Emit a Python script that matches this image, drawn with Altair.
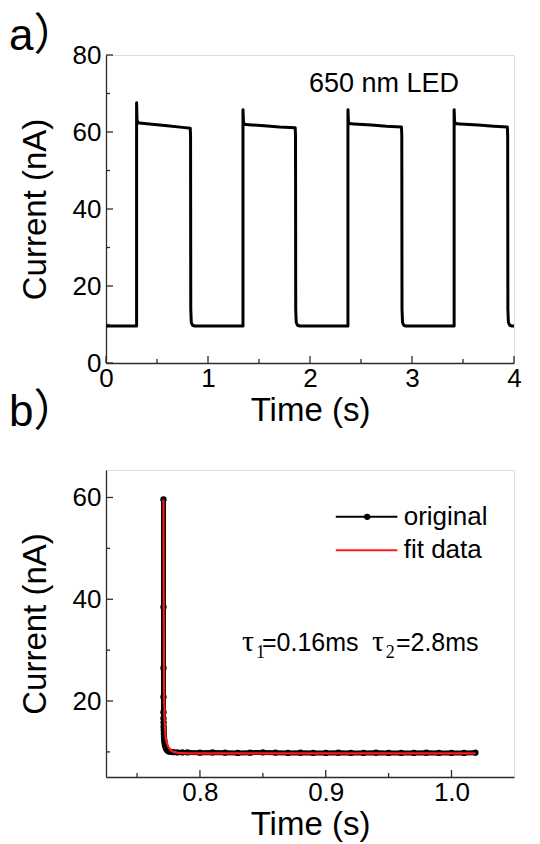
import altair as alt
import pandas as pd

# ---------------- panel a: square-wave photocurrent ----------------
a_time = [0.000, 0.300, 0.300, 0.304, 0.312, 0.350, 0.450, 0.600, 0.750, 0.826, 0.829, 0.831, 0.836, 0.848, 0.870,
          1.343, 1.343, 1.347, 1.355, 1.400, 1.550, 1.700, 1.855, 1.858, 1.860, 1.865, 1.877, 1.900,
          2.372, 2.372, 2.376, 2.384, 2.430, 2.600, 2.750, 2.897, 2.900, 2.902, 2.907, 2.919, 2.940,
          3.413, 3.413, 3.417, 3.425, 3.470, 3.650, 3.800, 3.935, 3.938, 3.940, 3.945, 3.957, 3.980, 4.000]
a_current = [9.6, 9.6, 67.6, 63.2, 62.4, 62.3, 62.0, 61.6, 61.2, 61.0, 59.0, 14.0, 10.6, 9.8, 9.6,
             9.6, 65.8, 62.8, 62.0, 61.9, 61.6, 61.3, 61.1, 59.0, 14.0, 10.6, 9.8, 9.6,
             9.6, 65.8, 62.9, 62.2, 62.1, 61.8, 61.5, 61.3, 59.0, 14.0, 10.6, 9.8, 9.6,
             9.6, 65.8, 62.9, 62.2, 62.1, 61.8, 61.5, 61.3, 59.0, 14.0, 10.6, 9.8, 9.6, 9.6]
a_note = ["650 nm LED"]
a_xticks_major = [0, 1, 2, 3, 4]
a_xticks_minor = [0.5, 1.5, 2.5, 3.5]
a_yticks_major = [0, 20, 40, 60, 80]
a_yticks_minor = [10, 30, 50, 70]

# ---------------- panel b: decay and fit ----------------
b_orig_time = [0.7710, 0.7710, 0.7710, 0.7710, 0.7710, 0.7710, 0.7711, 0.7711, 0.7712, 0.7713, 0.7714,
               0.7716, 0.7718, 0.7721, 0.7725, 0.7731, 0.7740, 0.7752, 0.7768, 0.7790, 0.7820, 0.7860,
               0.790, 0.800, 0.810, 0.820, 0.830, 0.840, 0.850, 0.860, 0.870, 0.880, 0.890, 0.900,
               0.910, 0.920, 0.930, 0.940, 0.950, 0.960, 0.970, 0.980, 0.990, 1.000, 1.010, 1.019]
b_orig_current = [59.6, 38.5, 26.5, 20.8, 17.8, 16.6, 15.8, 15.0, 14.3, 13.6, 13.0,
                  12.4, 11.9, 11.4, 11.0, 10.6, 10.3, 10.1, 10.0, 9.95, 9.9, 9.9,
                  9.9, 9.85, 9.9, 9.85, 9.8, 9.85, 9.9, 9.85, 9.8, 9.85, 9.8, 9.8,
                  9.85, 9.8, 9.8, 9.85, 9.8, 9.8, 9.8, 9.85, 9.8, 9.8, 9.8, 9.85]
b_fit_time = [0.7710, 0.7711, 0.7713, 0.7716, 0.7720, 0.7726, 0.7735, 0.7748, 0.7765, 0.7790,
              0.7830, 0.7900, 0.8200, 0.9000, 1.0190]
b_fit_current = [59.6, 45.0, 30.0, 20.0, 15.5, 13.2, 11.9, 11.0, 10.4, 10.0,
                 9.8, 9.72, 9.7, 9.7, 9.7]
b_legend = ["original", "fit data"]
b_tau_symbol = ["τ", "τ"]
b_tau_sub = ["1", "2"]
b_tau_value = ["=0.16ms", "=2.8ms"]
b_xticks_major = [0.8, 0.9, 1.0]
b_xticks_minor = [0.75, 0.85, 0.95]
b_yticks_major = [20, 40, 60]
b_yticks_minor = [10, 30, 50]

FONT = "Liberation Sans, Arial, Noto Sans CJK SC"
SERIF = "Liberation Serif, Times New Roman"
LINE = "#2b2b2b"
W1, H1 = 408, 308
W2, H2 = 408, 307


def x_axis(values, fmt):
    return alt.Axis(values=values, format=fmt, title="Time (s)", tickSize=0, labelPadding=2,
                    labelFontSize=26, titleFontSize=33, titlePadding=3, domainColor=LINE,
                    domainWidth=1.3, labelColor="black", titleColor="black", labelFont=FONT,
                    titleFont=FONT, titleFontWeight="normal", grid=False, labelFlush=False,
                    labelOverlap=False)


def y_axis(values):
    return alt.Axis(values=values, format="d", title="Current (nA)", tickSize=0, labelPadding=5,
                    labelFontSize=26, titleFontSize=33, titlePadding=18, domainColor=LINE,
                    domainWidth=1.3, labelColor="black", titleColor="black", labelFont=FONT,
                    titleFont=FONT, titleFontWeight="normal", grid=False, labelFlush=False,
                    labelOverlap=False, minExtent=36, maxExtent=36)


def tick_layers(xs, ys, xax, yax, xmaj, xmin, ymaj, ymin, H):
    out = []
    for vals, ln in ((xmaj, 7), (xmin, 4)):
        out.append(alt.Chart(pd.DataFrame({"v": vals})).mark_rule(color=LINE, strokeWidth=1.3).encode(
            x=alt.X("v:Q", scale=xs, axis=xax), y=alt.value(H), y2=alt.value(H - ln)))
    for vals, ln in ((ymaj, 7), (ymin, 4)):
        out.append(alt.Chart(pd.DataFrame({"v": vals})).mark_rule(color=LINE, strokeWidth=1.3).encode(
            y=alt.Y("v:Q", scale=ys, axis=yax), x=alt.value(0), x2=alt.value(ln)))
    return out


# ---------- panel a ----------
xa = alt.Scale(domain=[0, 4], nice=False, zero=False)
ya = alt.Scale(domain=[0, 80], nice=False, zero=False)
xa_ax = x_axis(a_xticks_major, "d")
ya_ax = y_axis(a_yticks_major)
a_df = pd.DataFrame({"t": a_time, "i": a_current, "k": list(range(len(a_time)))})
a_line = alt.Chart(a_df).mark_line(color="black", strokeWidth=3, strokeJoin="round").encode(
    x=alt.X("t:Q", scale=xa, axis=xa_ax),
    y=alt.Y("i:Q", scale=ya, axis=ya_ax),
    order="k:Q")
a_text = alt.Chart(pd.DataFrame({"s": a_note})).mark_text(
    align="left", baseline="alphabetic", fontSize=27, font=FONT, color="black").encode(
    x=alt.datum(1.99), y=alt.datum(70.4), text="s:N")
top = alt.layer(a_line, a_text, *tick_layers(xa, ya, xa_ax, ya_ax, a_xticks_major, a_xticks_minor,
                                              a_yticks_major, a_yticks_minor, H1)).properties(
    width=W1, height=H1,
    title=alt.TitleParams("a）", anchor="start", frame="group", fontSize=44, font=FONT,
                          fontWeight="normal", color="black", dx=-97, offset=-52,
                          baseline="alphabetic"))

# ---------- panel b ----------
xb = alt.Scale(domain=[0.7253, 1.0497], nice=False, zero=False)
yb = alt.Scale(domain=[5.07, 65.4], nice=False, zero=False)
xb_ax = x_axis(b_xticks_major, ".1f")
yb_ax = y_axis(b_yticks_major)
b_orig = pd.DataFrame({"t": b_orig_time, "i": b_orig_current, "k": list(range(len(b_orig_time)))})
b_fit = pd.DataFrame({"t": b_fit_time, "i": b_fit_current, "k": list(range(len(b_fit_time)))})
orig_line = alt.Chart(b_orig).mark_line(color="black", strokeWidth=5, strokeJoin="round").encode(
    x=alt.X("t:Q", scale=xb, axis=xb_ax),
    y=alt.Y("i:Q", scale=yb, axis=yb_ax),
    order="k:Q")
orig_pts = alt.Chart(b_orig).mark_circle(color="black", size=40, opacity=1).encode(
    x=alt.X("t:Q", scale=xb, axis=xb_ax), y=alt.Y("i:Q", scale=yb, axis=yb_ax))
fit_line = alt.Chart(b_fit).mark_line(color="#ff1a1a", strokeWidth=2.2).encode(
    x=alt.X("t:Q", scale=xb, axis=xb_ax), y=alt.Y("i:Q", scale=yb, axis=yb_ax), order="k:Q")

leg1 = pd.DataFrame({"s": [b_legend[0]]})
leg2 = pd.DataFrame({"s": [b_legend[1]]})
leg_l1 = alt.Chart(leg1).mark_rule(color="black", strokeWidth=2).encode(
    x=alt.datum(0.908), x2=alt.datum(0.957), y=alt.datum(56.2))
leg_p1 = alt.Chart(leg1).mark_circle(color="black", size=40, opacity=1).encode(
    x=alt.datum(0.933), y=alt.datum(56.2))
leg_t1 = alt.Chart(leg1).mark_text(align="left", baseline="middle", fontSize=26, font=FONT,
                                   color="black").encode(
    x=alt.datum(0.962), y=alt.datum(56.2), text="s:N")
leg_l2 = alt.Chart(leg2).mark_rule(color="#ff1a1a", strokeWidth=2).encode(
    x=alt.datum(0.908), x2=alt.datum(0.957), y=alt.datum(49.65))
leg_t2 = alt.Chart(leg2).mark_text(align="left", baseline="middle", fontSize=26, font=FONT,
                                   color="black").encode(
    x=alt.datum(0.962), y=alt.datum(49.65), text="s:N")

tau_df = pd.DataFrame({"sym": b_tau_symbol, "sub": b_tau_sub, "val": b_tau_value,
                       "x0": [0.8334, 0.9367], "x1": [0.8445, 0.9478], "x2": [0.8493, 0.9558]})
tau_sym = alt.Chart(tau_df).mark_text(align="left", baseline="alphabetic", fontSize=30,
                                      font=SERIF, color="black").encode(
    x=alt.X("x0:Q", scale=xb, axis=xb_ax), y=alt.datum(29.8), text="sym:N")
tau_sub = alt.Chart(tau_df).mark_text(align="left", baseline="alphabetic", fontSize=18,
                                      font=SERIF, color="black", dy=7).encode(
    x=alt.X("x1:Q", scale=xb, axis=xb_ax), y=alt.datum(29.8), text="sub:N")
tau_val = alt.Chart(tau_df).mark_text(align="left", baseline="alphabetic", fontSize=25,
                                      font=FONT, color="black").encode(
    x=alt.X("x2:Q", scale=xb, axis=xb_ax), y=alt.datum(29.8), text="val:N")

bottom = alt.layer(orig_line, orig_pts, fit_line, leg_l1, leg_p1, leg_t1, leg_l2, leg_t2,
                   tau_sym, tau_sub, tau_val,
                   *tick_layers(xb, yb, xb_ax, yb_ax, b_xticks_major, b_xticks_minor,
                                b_yticks_major, b_yticks_minor, H2)).properties(
    width=W2, height=H2,
    title=alt.TitleParams("b）", anchor="start", frame="group", fontSize=44, font=FONT,
                          fontWeight="normal", color="black", dx=-97, offset=0,
                          baseline="alphabetic"))

chart = alt.vconcat(top, bottom, spacing=107, bounds="flush").properties(
    padding={"left": 8, "top": 14, "right": 5, "bottom": 5}
).configure_view(stroke=LINE, strokeWidth=1.3).configure(background="white")

chart.save("out.html", embed_options={"renderer": "svg", "actions": False})
